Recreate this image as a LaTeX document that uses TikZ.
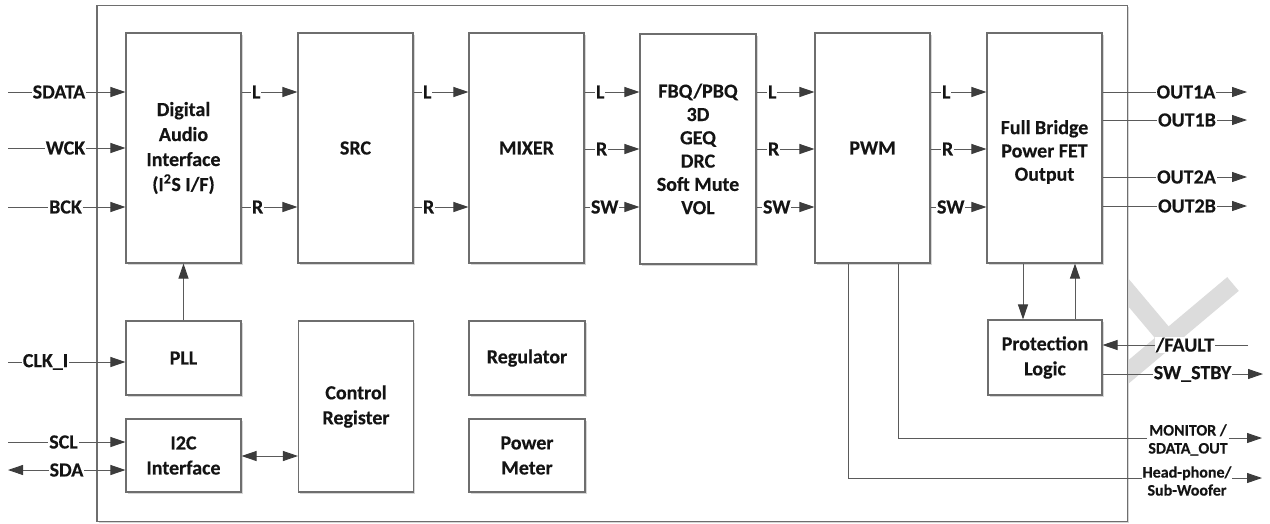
\documentclass[tikz,border=0pt]{standalone}
\usepackage{fontspec}
\setmainfont{Carlito}[BoldFeatures={FakeBold=0.3}]
\usetikzlibrary{arrows.meta,shadows}
\definecolor{edgec}{HTML}{6E6E6E}
\definecolor{wirec}{HTML}{5A5A5A}
\definecolor{headc}{HTML}{3C3C3C}
\definecolor{txtc}{HTML}{141414}
\definecolor{wmc}{HTML}{DCDCDC}
\begin{document}
\begin{tikzpicture}[x=1pt,y=-1pt,
  shd/.style={drop shadow={shadow xshift=1.8pt,shadow yshift=-1.8pt,fill=black!16,opacity=1}},
  blk/.style={draw=edgec,line width=1.1pt,fill=white,text=txtc,align=center,inner sep=0pt,
    font=\bfseries\fontsize{20}{25}\selectfont,shd},
  tight/.style={font=\bfseries\fontsize{20}{23.3}\selectfont},
  frame/.style={draw=edgec,line width=1.3pt,fill=white,inner sep=0pt,shd},
  arr/.style={draw=wirec,line width=0.9pt,-{Triangle[length=15pt,width=10pt,color=headc]}},
  biarr/.style={draw=wirec,line width=0.9pt,{Triangle[length=15pt,width=10pt,color=headc]}-{Triangle[length=15pt,width=10pt,color=headc]}},
  lbl/.style={fill=white,inner sep=1pt,text=txtc,font=\bfseries\fontsize{20}{24}\selectfont},
  slbl/.style={fill=white,inner sep=1pt,text=txtc,align=center,font=\bfseries\fontsize{16}{18}\selectfont},
  wmark/.style={draw=wmc,line width=18pt}
]
\useasboundingbox (0,0) rectangle (1270,523);

% watermark
\coordinate (wa1) at (1233,284);
\coordinate (wa2) at (1095,400);
\coordinate (wb1) at (1080,235);
\coordinate (wb2) at (1170,342);
\draw[wmark] (wa1) -- (wa2);
\draw[wmark] (wb1) -- (wb2);

% chip frame
\node[frame,minimum width=1030.5pt,minimum height=516pt] (chip) at (612.25,263.5) {};

% blocks
\node[blk,minimum width=115pt,minimum height=230pt] (dai) at (183.5,148) {Digital\\Audio\\Interface\\(I\textsuperscript{2}S I/F)};
\node[blk,minimum width=115pt,minimum height=230pt] (src) at (355.5,148) {SRC};
\node[blk,minimum width=115pt,minimum height=230pt] (mix) at (526.5,148) {MIXER};
\node[blk,tight,minimum width=116pt,minimum height=230pt] (fbq) at (698,149) {FBQ/PBQ\\3D\\GEQ\\DRC\\Soft Mute\\VOL};
\node[blk,minimum width=115pt,minimum height=230pt] (pwm) at (872.5,148) {PWM};
\node[blk,tight,minimum width=115pt,minimum height=230pt] (fb) at (1044.5,148) {\rule{0pt}{22pt}Full Bridge\\Power FET\\Output};
\node[blk,minimum width=114pt,minimum height=75pt] (prot) at (1045,357.5) {Protection\\Logic};
\node[blk,minimum width=115pt,minimum height=74pt] (pll) at (183.5,358) {PLL};
\node[blk,minimum width=115pt,minimum height=73pt] (i2c) at (183.5,455.5) {I2C\\Interface};
\node[blk,minimum width=115pt,minimum height=171pt] (ctrl) at (356,406.5) {Control\\Register};
\node[blk,minimum width=116pt,minimum height=74pt] (reg) at (527,358) {Regulator};
\node[blk,minimum width=116pt,minimum height=73pt] (pm) at (527,455.5) {Power\\Meter};

% levels
\coordinate (yL) at (0,92);
\coordinate (yC) at (0,149);
\coordinate (yR) at (0,207);
\coordinate (yI) at (0,456);

% inputs
\coordinate (sdata) at (8,92);
\coordinate (wck) at (8,148);
\coordinate (bck) at (8,207);
\coordinate (clki) at (8,362);
\coordinate (scl) at (8,442);
\coordinate (sda) at (8,470);
\draw[arr] (sdata) -- (dai.west |- sdata) node[lbl,pos=0,xshift=51pt] {SDATA};
\draw[arr] (wck) -- (dai.west |- wck) node[lbl,pos=0,xshift=57.5pt] {WCK};
\draw[arr] (bck) -- (dai.west |- bck) node[lbl,pos=0,xshift=57.5pt] {BCK};
\draw[arr] (clki) -- (pll.west |- clki) node[lbl,pos=0,xshift=37.5pt] {CLK\_I};
\draw[arr] (scl) -- (i2c.west |- scl) node[lbl,pos=0,xshift=55.5pt] {SCL};
\draw[biarr] (sda) -- (i2c.west |- sda) node[lbl,pos=0,xshift=58.5pt] {SDA};

% chain
\draw[arr] (dai.east |- yL) -- (src.west |- yL) node[lbl,pos=0,anchor=west,xshift=9pt] {L};
\draw[arr] (dai.east |- yR) -- (src.west |- yR) node[lbl,pos=0,anchor=west,xshift=9pt] {R};
\draw[arr] (src.east |- yL) -- (mix.west |- yL) node[lbl,pos=0,anchor=west,xshift=8pt] {L};
\draw[arr] (src.east |- yR) -- (mix.west |- yR) node[lbl,pos=0,anchor=west,xshift=8pt] {R};
\draw[arr] (mix.east |- yL) -- (fbq.west |- yL) node[lbl,pos=0,anchor=west,xshift=10pt] {L};
\draw[arr] (mix.east |- yC) -- (fbq.west |- yC) node[lbl,pos=0,anchor=west,xshift=10pt] {R};
\draw[arr] (mix.east |- yR) -- (fbq.west |- yR) node[lbl,pos=0,anchor=west,xshift=5pt] {SW};
\draw[arr] (fbq.east |- yL) -- (pwm.west |- yL) node[lbl,pos=0,anchor=west,xshift=10pt] {L};
\draw[arr] (fbq.east |- yC) -- (pwm.west |- yC) node[lbl,pos=0,anchor=west,xshift=10pt] {R};
\draw[arr] (fbq.east |- yR) -- (pwm.west |- yR) node[lbl,pos=0,anchor=west,xshift=5pt] {SW};
\draw[arr] (pwm.east |- yL) -- (fb.west |- yL) node[lbl,pos=0,anchor=west,xshift=10pt] {L};
\draw[arr] (pwm.east |- yC) -- (fb.west |- yC) node[lbl,pos=0,anchor=west,xshift=10pt] {R};
\draw[arr] (pwm.east |- yR) -- (fb.west |- yR) node[lbl,pos=0,anchor=west,xshift=5pt] {SW};

% lower left
\draw[arr] (pll.north) -- (dai.south);
\draw[biarr] (i2c.east |- yI) -- (ctrl.west |- yI);

% outputs
\coordinate (o1a) at (1247,92);
\coordinate (o1b) at (1247,120);
\coordinate (o2a) at (1247,177);
\coordinate (o2b) at (1247,206);
\draw[arr] (fb.east |- o1a) -- (o1a) node[lbl,pos=1,xshift=-61pt] {OUT1A};
\draw[arr] (fb.east |- o1b) -- (o1b) node[lbl,pos=1,xshift=-60pt] {OUT1B};
\draw[arr] (fb.east |- o2a) -- (o2a) node[lbl,pos=1,xshift=-60.5pt] {OUT2A};
\draw[arr] (fb.east |- o2b) -- (o2b) node[lbl,pos=1,xshift=-60pt] {OUT2B};

% protection
\coordinate (xd) at (1023,0);
\coordinate (xu) at (1075,0);
\draw[arr] (fb.south -| xd) -- (prot.north -| xd);
\draw[arr] (prot.north -| xu) -- (fb.south -| xu);
\coordinate (flt) at (1248,345);
\coordinate (stby) at (1263,374);
\draw[arr] (flt) -- (prot.east |- flt) node[lbl,pos=0,xshift=-63pt] {/FAULT};
\draw[arr] (prot.east |- stby) -- (stby) node[lbl,pos=1,xshift=-70.5pt] {SW\_STBY};

% PWM side outputs
\coordinate (xm) at (898,0);
\coordinate (xh) at (848,0);
\coordinate (mon) at (1262,438);
\coordinate (hp) at (1262,478);
\draw[arr] (pwm.south -| xm) |- (mon) node[slbl,at end,xshift=-74pt,yshift=-2pt] {MONITOR /\\SDATA\_OUT};
\draw[arr] (pwm.south -| xh) |- (hp) node[slbl,at end,xshift=-75pt,yshift=-3pt] {Head-phone/\\Sub-Woofer};
\end{tikzpicture}
\end{document}
